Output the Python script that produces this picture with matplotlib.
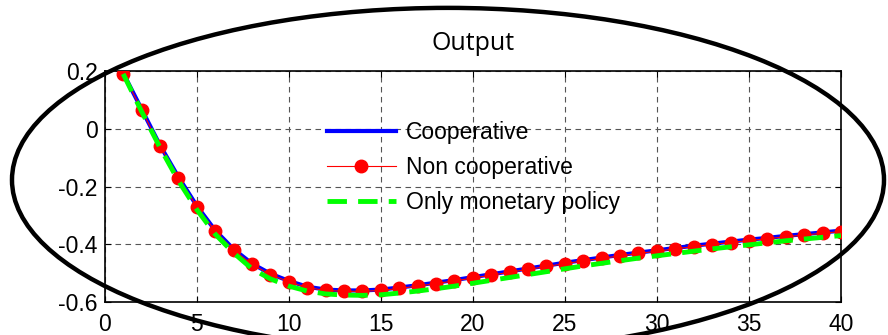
import numpy as np
import matplotlib
matplotlib.use("Agg")
import matplotlib.pyplot as plt
import matplotlib.patches as patches

plt.rcParams['font.family'] = ['Liberation Sans', 'DejaVu Sans']

periods = np.arange(1, 41)
non_coop = [0.19, 0.065, -0.06, -0.17, -0.27, -0.355, -0.42, -0.47, -0.505, -0.53,
            -0.55, -0.56, -0.563, -0.563, -0.56, -0.553, -0.545, -0.536, -0.527, -0.517,
            -0.507, -0.497, -0.487, -0.477, -0.467, -0.458, -0.449, -0.44, -0.432, -0.424,
            -0.416, -0.408, -0.401, -0.394, -0.387, -0.381, -0.374, -0.368, -0.362, -0.356]
coop = [v + 0.003 for v in non_coop]
only_mon = [0.19, 0.06, -0.065, -0.18, -0.28, -0.365, -0.43, -0.485, -0.52, -0.545,
            -0.562, -0.572, -0.576, -0.577, -0.575, -0.569, -0.562, -0.554, -0.545, -0.535,
            -0.525, -0.515, -0.505, -0.495, -0.485, -0.475, -0.466, -0.457, -0.448, -0.44,
            -0.432, -0.424, -0.416, -0.409, -0.402, -0.395, -0.388, -0.382, -0.376, -0.37]

fig = plt.figure(figsize=(8.88, 3.35), dpi=100)
ax = fig.add_axes([0.118, 0.0985, 0.829, 0.6895])

ax.plot(periods, coop, color='#0000ff', lw=3, label='Cooperative', zorder=3)
ax.plot(periods, non_coop, color='#ff0000', lw=0.8, marker='o', markersize=9,
        label='Non cooperative', zorder=4)
ax.plot(periods, only_mon, color='#00ff00', lw=3.5, ls=(0, (4, 2.3)),
        label='Only monetary policy', zorder=5)

ax.set_xlim(0, 40)
ax.set_ylim(-0.6, 0.2)
ax.set_xticks(range(0, 41, 5))
ax.set_yticks([-0.6, -0.4, -0.2, 0, 0.2])
ax.set_yticklabels(['-0.6', '-0.4', '-0.2', '0', '0.2'])
ax.tick_params(direction='in', labelsize=16.5, length=4, top=True, right=True)
ax.tick_params(axis='y', pad=5)
ax.tick_params(axis='x', pad=8)
ax.grid(True, ls=(0, (5, 4)), color='#555555', lw=0.8)
for s in ax.spines.values():
    s.set_linewidth(1.2)
ax.set_title('Output', fontsize=18, pad=15, family=['Open Sans', 'DejaVu Sans'])

ax.legend(loc='upper left', bbox_to_anchor=(0.302, 0.785), frameon=False, fontsize=16.5,
          handlelength=3.0, handletextpad=0.45, labelspacing=0.53, borderaxespad=0,
          borderpad=0)

ell = patches.Ellipse((0.5045, 0.463), 0.982, 1.027, transform=fig.transFigure,
                      fill=False, edgecolor='black', lw=3.2, clip_on=False, zorder=10)
fig.add_artist(ell)

fig.savefig('out.png', dpi=100)
